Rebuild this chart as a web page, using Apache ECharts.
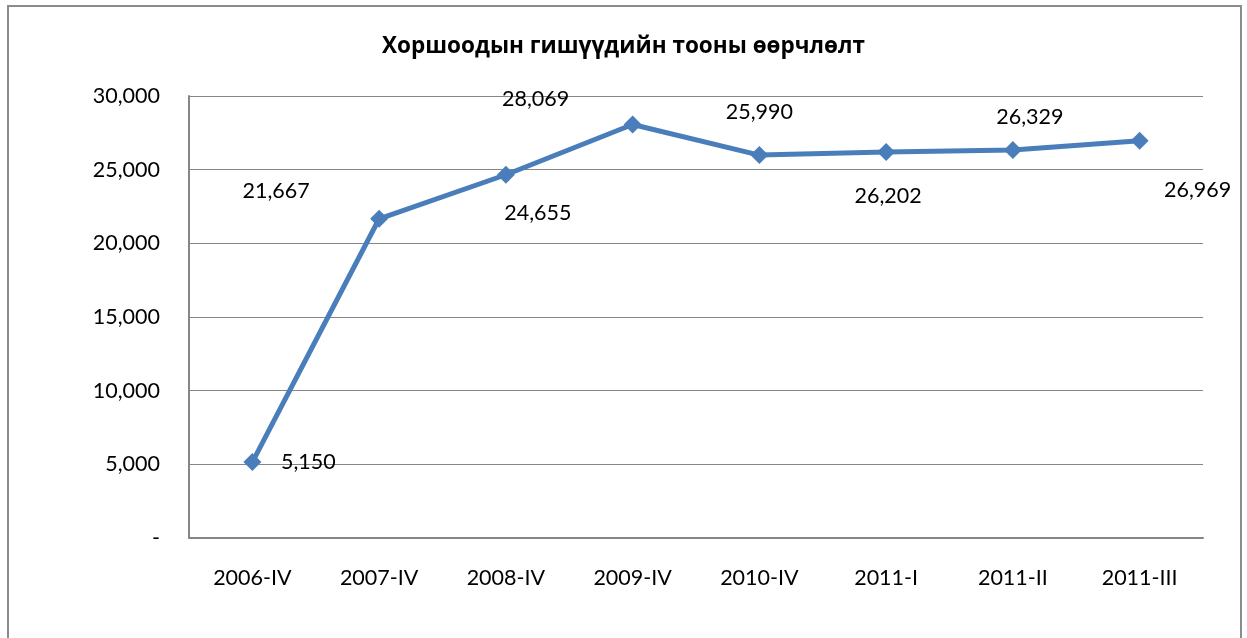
<!DOCTYPE html>
<html>
<head>
<meta charset="utf-8">
<script src="https://cdn.jsdelivr.net/npm/echarts@6/dist/echarts.min.js"></script>
<style>
  html, body { margin: 0; padding: 0; background: #fff; }
  #chart { width: 1247px; height: 638px; }
</style>
</head>
<body>
<div id="chart"></div>
<script>
// data
var categories = ['2006-IV', '2007-IV', '2008-IV', '2009-IV', '2010-IV', '2011-I', '2011-II', '2011-III']
var members = [5150, 21667, 24655, 28069, 25990, 26202, 26329, 26969]
// where each value label sits relative to its point
var labelOffsets = [[56, 0], [-103, -28], [32, 38], [-97, -25], [0, -43], [2, 44], [17, -33], [58, 49]]

var fontFamily = 'Lato, "Open Sans", "Noto Sans", sans-serif'

function fmt(v) {
  if (v === 0) return '-'
  return v.toLocaleString('en-US')
}

var chart = echarts.init(document.getElementById('chart'))

chart.setOption({
  animation: false,
  backgroundColor: '#fff',
  textStyle: { fontFamily: fontFamily },
  title: {
    text: 'Хоршоодын гишүүдийн тооны өөрчлөлт',
    left: 'center',
    top: 30,
    textStyle: { fontFamily: '"Open Sans", "Noto Sans", sans-serif', fontSize: 22.5, fontWeight: 'bold', color: '#000' }
  },
  graphic: [{
    type: 'rect',
    shape: { x: 8, y: 6, width: 1233, height: 650 },
    style: { fill: 'none', stroke: '#8c8c8c', lineWidth: 2 },
    silent: true
  }],
  grid: { left: 189, right: 44, top: 96, bottom: 100 },
  xAxis: {
    type: 'category',
    data: categories,
    axisLine: { lineStyle: { color: '#868686', width: 2 } },
    axisTick: { show: false },
    axisLabel: { color: '#000', fontSize: 21.5, margin: 29, fontFamily: fontFamily }
  },
  yAxis: {
    type: 'value',
    min: 0,
    max: 30000,
    interval: 5000,
    axisLine: { show: true, lineStyle: { color: '#868686', width: 2 } },
    axisTick: { show: false },
    splitLine: { lineStyle: { color: '#868686', width: 1.2 } },
    axisLabel: { color: '#000', fontSize: 21.5, margin: 29, fontFamily: fontFamily, formatter: fmt }
  },
  series: [{
    type: 'line',
    data: members.map(function (v, i) {
      return {
        value: v,
        label: { offset: labelOffsets[i] }
      }
    }),
    symbol: 'diamond',
    symbolSize: 18,
    itemStyle: { color: '#4a7ebb' },
    lineStyle: { color: '#4a7ebb', width: 5 },
    label: {
      show: true,
      position: 'inside',
      color: '#000',
      fontSize: 21.5,
      fontFamily: fontFamily,
      formatter: function (p) { return fmt(p.value) }
    }
  }]
})
</script>
</body>
</html>
